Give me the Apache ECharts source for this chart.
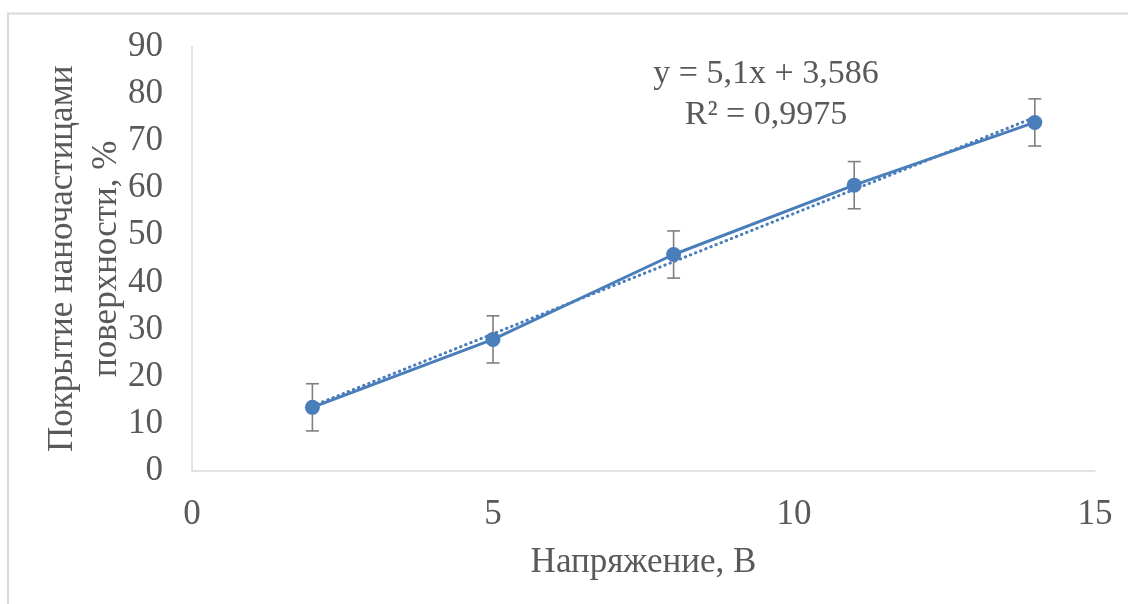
<!DOCTYPE html>
<html>
<head>
<meta charset="utf-8">
<style>
  html, body { margin: 0; padding: 0; background: #ffffff; }
  #chart { width: 1128px; height: 604px; }
</style>
<script src="https://cdn.jsdelivr.net/npm/echarts@6/dist/echarts.min.js"></script>
</head>
<body>
<div id="chart"></div>
<script>
// Voltage, V
const voltage = [2, 5, 8, 11, 14];
// Surface coverage by nanoparticles, %
const coverage = [13.5, 27.9, 45.9, 60.6, 73.9];
// Symmetric error, %
const errorSize = [5, 5, 5, 5, 5];
// Linear trend coefficients
const trendSlope = 5.1;
const trendIntercept = 3.586;
const trendR2 = '0,9975';
const trendSpan = [2, 14];

const blue = '#4a7ebb';
const textColor = '#595959';
const font = '"Liberation Serif", "Times New Roman", serif';

const pointData = voltage.map((x, i) => [x, coverage[i]]);
const errorData = voltage.map((x, i) => [x, coverage[i] - errorSize[i], coverage[i] + errorSize[i]]);
const trendData = trendSpan.map(x => [x, trendSlope * x + trendIntercept]);

const chart = echarts.init(document.getElementById('chart'), null, { renderer: 'canvas' });

chart.setOption({
  animation: false,
  backgroundColor: '#ffffff',
  grid: { left: 192, right: 33, top: 46.5, bottom: 133, containLabel: false },
  xAxis: {
    type: 'value',
    min: 0, max: 15, interval: 5,
    name: 'Напряжение, В',
    nameLocation: 'middle',
    nameGap: 74,
    nameMoveOverlap: false,
    nameTextStyle: { fontFamily: font, fontSize: 35, color: textColor },
    axisLine: { show: true, lineStyle: { color: '#d9d9d9', width: 1.5 } },
    axisTick: { show: false },
    splitLine: { show: false },
    axisLabel: { fontFamily: font, fontSize: 35, color: textColor, margin: 26 }
  },
  yAxis: {
    type: 'value',
    min: 0, max: 90, interval: 10,
    name: 'Покрытие наночастицами\nповерхности, %',
    nameLocation: 'middle',
    nameGap: 63,
    nameMoveOverlap: false,
    nameTextStyle: { fontFamily: font, fontSize: 35, color: textColor, lineHeight: 44 },
    axisLine: { show: true, lineStyle: { color: '#d9d9d9', width: 1.5 } },
    axisTick: { show: false },
    splitLine: { show: false },
    axisLabel: { fontFamily: font, fontSize: 35, color: textColor, margin: 29 }
  },
  graphic: [
    {
      type: 'rect',
      shape: { x: 8, y: 13.5, width: 1200, height: 700 },
      style: { fill: 'none', stroke: '#d9d9d9', lineWidth: 2 },
      silent: true, z: -10
    },
    {
      type: 'text',
      x: 766, y: 95,
      style: {
        text: 'y = ' + String(trendSlope).replace('.', ',') + 'x + ' +
              String(trendIntercept).replace('.', ',') + '\nR² = ' + trendR2,
        fontFamily: font, fontSize: 34, fill: textColor,
        align: 'center', verticalAlign: 'middle', lineHeight: 41
      },
      silent: true
    }
  ],
  series: [
    {
      name: 'errors',
      type: 'custom',
      data: errorData,
      z: 1,
      renderItem: function (params, api) {
        const x = api.value(0);
        const lo = api.coord([x, api.value(1)]);
        const hi = api.coord([x, api.value(2)]);
        const cap = 6.5;
        const style = { stroke: '#7f7f7f', lineWidth: 1.6 };
        return {
          type: 'group',
          children: [
            { type: 'line', shape: { x1: lo[0], y1: lo[1], x2: hi[0], y2: hi[1] }, style: style },
            { type: 'line', shape: { x1: lo[0] - cap, y1: lo[1], x2: lo[0] + cap, y2: lo[1] }, style: style },
            { type: 'line', shape: { x1: hi[0] - cap, y1: hi[1], x2: hi[0] + cap, y2: hi[1] }, style: style }
          ]
        };
      }
    },
    {
      name: 'trend',
      type: 'line',
      data: trendData,
      z: 2,
      symbol: 'none',
      lineStyle: { color: blue, width: 3, type: [0.5, 5], cap: 'round' }
    },
    {
      name: 'coverage',
      type: 'line',
      data: pointData,
      z: 3,
      symbol: 'circle',
      symbolSize: 15,
      itemStyle: { color: blue },
      lineStyle: { color: blue, width: 3 }
    }
  ]
});
</script>
</body>
</html>
